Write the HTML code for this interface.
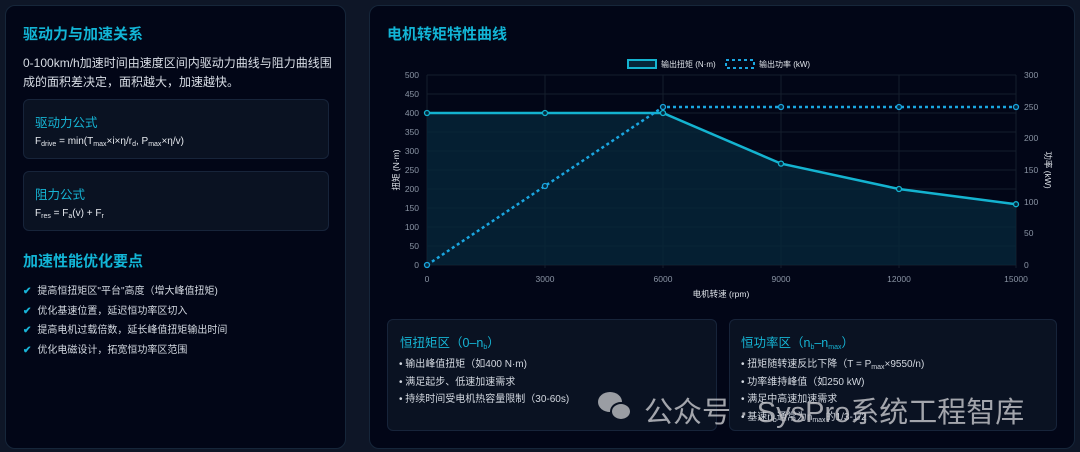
<!DOCTYPE html>
<html><head><meta charset="utf-8"><style>
*{margin:0;padding:0;box-sizing:border-box}
body{width:1080px;height:452px;background:#0e1627;font-family:"Liberation Sans","Noto Sans CJK SC",sans-serif;position:relative;overflow:hidden;color:#d6dbe4}
.panel{position:absolute;background:#020617;border:1px solid #16263a;border-radius:10px}
h2{position:absolute;color:#12b5d6;font-size:15px;font-weight:bold}
.box{position:absolute;background:#0a1222;border:1px solid #17243a;border-radius:6px}
.box h3{color:#16b4d4;font-size:12.5px;font-weight:normal;position:absolute}
.f{position:absolute;font-size:10px;color:#e6e9ee}
sub{font-size:7px;vertical-align:-2px}
.li{position:absolute;font-size:10px;color:#d3d8e0}
.li b{color:#18b4d8;margin-right:6px;font-weight:bold}
.bl{position:absolute;font-size:10px;color:#d3d8e0}
</style></head><body>
<div class="panel" style="left:5px;top:5px;width:341px;height:444px"></div>
<div class="panel" style="left:369px;top:5px;width:706px;height:444px"></div>

<h2 style="left:23px;top:23px">驱动力与加速关系</h2>
<div style="position:absolute;left:23px;top:54px;width:320px;font-size:12px;line-height:19px;color:#d8dde5">0-100km/h加速时间由速度区间内驱动力曲线与阻力曲线围成的面积差决定，面积越大，加速越快。</div>
<div class="box" style="left:23px;top:99px;width:306px;height:60px"><h3 style="left:11px;top:12px">驱动力公式</h3><div class="f" style="left:11px;top:36px">F<sub>drive</sub> = min(T<sub>max</sub>×i×η/r<sub>d</sub>, P<sub>max</sub>×η/v)</div></div>
<div class="box" style="left:23px;top:171px;width:306px;height:60px"><h3 style="left:11px;top:12px">阻力公式</h3><div class="f" style="left:11px;top:36px">F<sub>res</sub> = F<sub>a</sub>(v) + F<sub>r</sub></div></div>
<h2 style="left:23px;top:250px">加速性能优化要点</h2>
<div class="li" style="left:23px;top:282px"><b>✔</b>提高恒扭矩区"平台"高度（增大峰值扭矩)</div>
<div class="li" style="left:23px;top:302px"><b>✔</b>优化基速位置，延迟恒功率区切入</div>
<div class="li" style="left:23px;top:321px"><b>✔</b>提高电机过载倍数，延长峰值扭矩输出时间</div>
<div class="li" style="left:23px;top:341px"><b>✔</b>优化电磁设计，拓宽恒功率区范围</div>

<h2 style="left:387px;top:23px">电机转矩特性曲线</h2>
<svg style="position:absolute;left:0;top:0" width="1080" height="452" font-family="Liberation Sans,Noto Sans CJK SC,sans-serif">
<g stroke="#141e2c" stroke-width="1">
<line x1="427" y1="75" x2="1016" y2="75"/><line x1="427" y1="94" x2="1016" y2="94"/><line x1="427" y1="113" x2="1016" y2="113"/><line x1="427" y1="132" x2="1016" y2="132"/><line x1="427" y1="151" x2="1016" y2="151"/><line x1="427" y1="170" x2="1016" y2="170"/><line x1="427" y1="189" x2="1016" y2="189"/><line x1="427" y1="208" x2="1016" y2="208"/><line x1="427" y1="227" x2="1016" y2="227"/><line x1="427" y1="246" x2="1016" y2="246"/><line x1="427" y1="265" x2="1016" y2="265"/>
<line x1="427" y1="75" x2="427" y2="268"/><line x1="545" y1="75" x2="545" y2="268"/><line x1="663" y1="75" x2="663" y2="268"/><line x1="781" y1="75" x2="781" y2="268"/><line x1="899" y1="75" x2="899" y2="268"/><line x1="1016" y1="75" x2="1016" y2="268"/>
</g>
<polygon points="427,113 545,113 663,113 781,163.6 899,189 1016,204.2 1016,265 427,265" fill="#06263a" fill-opacity="0.8"/>
<polyline points="427,113 545,113 663,113 781,163.6 899,189 1016,204.2" fill="none" stroke="#14b3d0" stroke-width="2.5"/>
<polyline points="427,265 545,186 663,107 781,107 899,107 1016,107" fill="none" stroke="#1aa6e0" stroke-width="2.5" stroke-dasharray="3,3"/>
<g fill="#06263a" stroke="#14b3d0" stroke-width="1.3">
<circle cx="427" cy="113" r="2.5"/><circle cx="545" cy="113" r="2.5"/><circle cx="663" cy="113" r="2.5"/><circle cx="781" cy="163.6" r="2.5"/><circle cx="899" cy="189" r="2.5"/><circle cx="1016" cy="204.2" r="2.5"/>
<circle cx="427" cy="265" r="2.5" stroke="#1aa6e0"/><circle cx="545" cy="186" r="2.5" stroke="#1aa6e0"/><circle cx="663" cy="107" r="2.5" stroke="#1aa6e0"/><circle cx="781" cy="107" r="2.5" stroke="#1aa6e0"/><circle cx="899" cy="107" r="2.5" stroke="#1aa6e0"/><circle cx="1016" cy="107" r="2.5" stroke="#1aa6e0"/>
</g>
<g font-size="8.5" fill="#8a94a4" text-anchor="end">
<text x="419" y="78">500</text><text x="419" y="97">450</text><text x="419" y="116">400</text><text x="419" y="135">350</text><text x="419" y="154">300</text><text x="419" y="173">250</text><text x="419" y="192">200</text><text x="419" y="211">150</text><text x="419" y="230">100</text><text x="419" y="249">50</text><text x="419" y="268">0</text>
</g>
<g font-size="8.5" fill="#8a94a4">
<text x="1024" y="78">300</text><text x="1024" y="110">250</text><text x="1024" y="141">200</text><text x="1024" y="173">150</text><text x="1024" y="205">100</text><text x="1024" y="236">50</text><text x="1024" y="268">0</text>
</g>
<g font-size="8.5" fill="#8a94a4" text-anchor="middle">
<text x="427" y="282">0</text><text x="545" y="282">3000</text><text x="663" y="282">6000</text><text x="781" y="282">9000</text><text x="899" y="282">12000</text><text x="1016" y="282">15000</text>
</g>
<text x="721" y="297" font-size="8.5" fill="#e0e4ea" text-anchor="middle">电机转速 (rpm)</text>
<text transform="translate(399,170) rotate(-90)" font-size="8.5" fill="#e0e4ea" text-anchor="middle">扭矩 (N·m)</text>
<text transform="translate(1045,170) rotate(90)" font-size="8.5" fill="#e0e4ea" text-anchor="middle">功率 (kW)</text>
<rect x="628" y="60" width="28" height="8" fill="#06263a" stroke="#14b3d0" stroke-width="2"/>
<text x="661" y="67" font-size="8" fill="#e0e4ea">输出扭矩 (N·m)</text>
<rect x="726" y="60" width="28" height="8" fill="none" stroke="#1aa6e0" stroke-width="2" stroke-dasharray="3,3"/>
<text x="759" y="67" font-size="8" fill="#e0e4ea">输出功率 (kW)</text>
</svg>

<div class="box" style="left:387px;top:319px;width:330px;height:112px"><h3 style="left:12px;top:12px">恒扭矩区（0–n<sub>b</sub>）</h3></div>
<div class="bl" style="left:399px;top:355px">• 输出峰值扭矩（如400 N·m)</div>
<div class="bl" style="left:399px;top:373px">• 满足起步、低速加速需求</div>
<div class="bl" style="left:399px;top:390px">• 持续时间受电机热容量限制（30-60s)</div>
<div class="box" style="left:729px;top:319px;width:328px;height:112px"><h3 style="left:11px;top:12px">恒功率区（n<sub>b</sub>–n<sub>max</sub>）</h3></div>
<div class="bl" style="left:741px;top:355px">• 扭矩随转速反比下降（T = P<sub>max</sub>×9550/n)</div>
<div class="bl" style="left:741px;top:373px">• 功率维持峰值（如250 kW)</div>
<div class="bl" style="left:741px;top:390px">• 满足中高速加速需求</div>
<div class="bl" style="left:741px;top:408px">• 基速n<sub>b</sub>通常为n<sub>max</sub>的1/3-1/2</div>

<div style="position:absolute;left:598px;top:392px;width:38px;height:34px">
<div style="position:absolute;left:0;top:0;width:24px;height:20px;border-radius:50%;background:#9a9da3"></div>
<div style="position:absolute;left:12px;top:10px;width:22px;height:19px;border-radius:50%;background:#9a9da3;border:2px solid #0a1222"></div>
</div>
<div style="position:absolute;left:644px;top:389px;font-size:29px;color:rgba(190,192,196,0.85);white-space:nowrap">公众号 · SysPro系统工程智库</div>
</body></html>
